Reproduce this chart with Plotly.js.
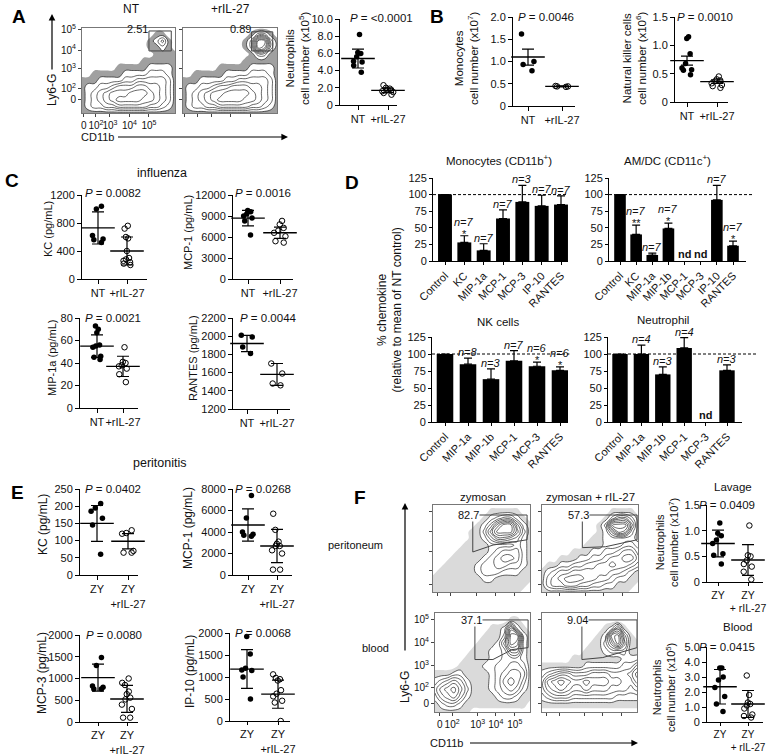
<!DOCTYPE html>
<html><head><meta charset="utf-8">
<script src="https://cdn.plot.ly/plotly-3.0.1.min.js"></script>
<style>html,body{margin:0;padding:0;background:#fff}#fig{width:774px;height:755px}</style>
</head><body><div id="fig"></div>
<script>
// ================= DATA =================
// Panel A – neutrophils (x10^5)
const catsNT = ['NT', '+rIL-27'];
const aNeutNT = [8.2, 6.1, 6.0, 5.6, 5.1, 5.0, 4.6, 3.8];
const aNeutIL = [2.3, 2.0, 1.9, 1.8, 1.7, 1.7, 1.6, 1.5, 1.4, 1.2];
const aNeutMean = [5.4, 1.7];
const aNeutSD = [1.1, 0.25];
const aTicks = [0, 2, 4, 6, 8, 10];
const aTickText = ['0', '2.0', '4.0', '6.0', '8.0', '10.0'];
const aGateLabels = ['2.51', '0.89'];
// Panel B
const bMonoNT = [1.62, 1.0, 0.93, 0.79];
const bMonoIL = [0.45, 0.44, 0.44, 0.43];
const bMonoMean = [1.1, 0.44];
const bMonoSEM = [0.18, 0.01];
const bMonoTicks = [0, 0.5, 1.0, 1.5, 2.0];
const bMonoTickText = ['0', '0.5', '1.0', '1.5', '2.0'];
const bNkNT = [1.15, 1.12, 0.85, 0.68, 0.60, 0.57, 0.56, 0.48];
const bNkIL = [0.45, 0.40, 0.38, 0.37, 0.33, 0.30, 0.28, 0.25];
const bNkMean = [0.73, 0.36];
const bNkSEM = [0.08, 0.03];
const bNkTicks = [0, 0.5, 1.0, 1.5];
const bNkTickText = ['0', '0.5', '1.0', '1.5'];
// Panel C – influenza
const cKcNT = [1040, 1000, 620, 570, 560, 520];
const cKcIL = [760, 720, 600, 580, 400, 300, 280, 260, 240, 220, 200];
const cKcMean = [730, 400];
const cKcSD = [230, 200];
const cMcp1NT = [9800, 9600, 9300, 9000, 8700, 8300, 6300];
const cMcp1IL = [8300, 7800, 7300, 6900, 6600, 6100, 5400, 5200];
const cMcp1Mean = [8700, 6600];
const cMcp1SD = [1100, 800];
const cMip1aNT = [73, 70, 67, 56, 55, 54, 46, 45, 43];
const cMip1aIL = [54, 41, 40, 38, 37, 35, 30, 23];
const cMip1aMean = [55, 37];
const cMip1aSD = [10, 9];
const cRantesNT = [2010, 1990, 1880, 1810];
const cRantesIL = [1700, 1590, 1480, 1460];
const cRantesMean = [1920, 1580];
const cRantesSD = [90, 120];
// Panel D – % chemokine
const dMonoCats = ['Control', 'KC', 'MIP-1a', 'MCP-1', 'MCP-3', 'IP-10', 'RANTES'];
const dMonoVals = [100, 28, 16, 64, 89, 83, 85];
const dMonoErr = [0, 10, 10, 13, 25, 16, 13];
const dMonoN = ['', '7', '7', '7', '3', '7', '7'];
const dMonoStar = ['', '*', '', '', '', '', ''];
const dAmCats = ['Control', 'KC', 'MIP-1a', 'MIP-1b', 'MCP-1', 'MCP-3', 'IP-10', 'RANTES'];
const dAmVals = [100, 40, 9, 49, null, null, 92, 23];
const dAmErr = [0, 14, 3, 8, 0, 0, 22, 7];
const dAmN = ['', '7', '7', '7', 'nd', 'nd', '7', '7'];
const dAmStar = ['', '**', '', '*', '', '', '', '*'];
const dNkCats = ['Control', 'MIP-1a', 'MIP-1b', 'MCP-1', 'MCP-3', 'RANTES'];
const dNkVals = [100, 85, 63, 90, 82, 76];
const dNkErr = [0, 9, 15, 15, 6, 5];
const dNkN = ['', '8', '3', '7', '6', '6'];
const dNkStar = ['', '', '', '', '*', '*'];
const dNeCats = ['Control', 'MIP-1a', 'MIP-1b', 'MCP-1', 'MCP-3', 'RANTES'];
const dNeVals = [100, 100, 70, 109, null, 76];
const dNeErr = [0, 13, 11, 15, 0, 8];
const dNeN = ['', '4', '3', '4', 'nd', '3'];
const dNeStar = ['', '', '', '', '', ''];
const dTicks = [0, 25, 50, 75, 100, 125];
// Panel E – peritonitis
const catsZY = ['ZY', 'ZY<br>+rIL-27'];
const eKcZY = [208, 195, 185, 165, 145, 60];
const eKcIL = [130, 122, 120, 70, 65, 65];
const eKcMean = [150, 98];
const eKcSD = [52, 22];
const eMcp1ZY = [7400, 5300, 4000, 3800, 3700, 3600];
const eMcp1IL = [5700, 4200, 3100, 2900, 2700, 2700, 2300, 2000, 500, 500];
const eMcp1Mean = [4650, 2700];
const eMcp1SD = [1500, 1550];
const eMcp3ZY = [1480, 1300, 830, 800, 760, 760];
const eMcp3IL = [1000, 900, 850, 700, 640, 560, 520, 400, 300, 100, 100];
const eMcp3Mean = [1020, 530];
const eMcp3SD = [310, 310];
const eIp10ZY = [1920, 1520, 1200, 1160, 1150, 1000, 500];
const eIp10IL = [1060, 980, 950, 920, 700, 620, 560, 460, 420, 0];
const eIp10Mean = [1180, 610];
const eIp10SD = [440, 320];
// Panel F
const catsZY2 = ['ZY', 'ZY<br>+ rIL-27'];
const fLavZY = [1.15, 0.95, 0.9, 0.82, 0.75, 0.55, 0.52, 0.35];
const fLavIL = [1.1, 0.52, 0.5, 0.42, 0.35, 0.3, 0.2, 0.05];
const fLavMean = [0.75, 0.43];
const fLavSD = [0.26, 0.30];
const fBloodZY = [3.6, 3.6, 3.0, 2.8, 2.3, 1.7, 1.2, 0.7];
const fBloodIL = [3.1, 1.8, 1.3, 1.2, 1.1, 0.9, 0.5, 0.4, 0.3];
const fBloodMean = [2.35, 1.2];
const fBloodSD = [1.15, 0.9];
const fGateLabels = ['82.7', '57.3', '37.1', '9.04'];
const flowTickText = ['0', '10<sup>2</sup>', '10<sup>3</sup>', '10<sup>4</sup>', '10<sup>5</sup>'];
const pValues = {aNeut: '&lt;0.0001', bMono: '0.0046', bNk: '0.0010', cKc: '0.0082', cMcp1: '0.0016', cMip1a: '0.0021', cRantes: '0.0044',
  eKc: '0.0402', eMcp1: '0.0268', eMcp3: '0.0080', eIp10: '0.0068', fLav: '0.0409', fBlood: '0.0415'};

// Flow cytometry density grids (rows top -> bottom, levels 0-9)
const flowA_NT = [
"0000000000000000",
"0000000000001100",
"0000000000012410",
"0000000000011210",
"0000000000001111",
"0000000000111111",
"0000001111122221",
"0011111222233321",
"1112222334444431",
"1223345556655431",
"1234566677765431",
"1234567777665431",
"1233445555544321",
"1111111111111111"];
const flowA_IL = [
"0000000000000000",
"0000000000013310",
"0000000000139931",
"0000000000139831",
"0000000000013311",
"0000000000111111",
"0000001111122221",
"0011111222233321",
"1112222334444431",
"1223345566655431",
"1234566777765431",
"1234567777665431",
"1233445555544321",
"1111111111111111"];
const flowF_TL = [
"0000000000000000",
"0000000001111100",
"0000000012344210",
"0000000124799521",
"0000001136999631",
"0000001124665421",
"0000011112222321",
"0000111112344421",
"0001111123455421",
"0011111233443321",
"0111111233322211",
"1111111122111111",
"1111111111111110",
"1111111111111100"];
const flowF_TR = [
"0000000000000000",
"0000000000011110",
"0000000000135531",
"0000000001399951",
"0000000001258731",
"0000000011222221",
"0000000111222332",
"0000011122334553",
"0001112233455664",
"0112233445565543",
"1234455555544321",
"1345666554432211",
"1344554433221110",
"1111111111111100"];
const flowF_BL = [
"0000000000000000",
"0000000000001100",
"0000000001127210",
"0000000011139921",
"0000000111259821",
"0000001112236621",
"0000011112233321",
"0000111122334431",
"1112211112345541",
"2345421112356531",
"3567531112345421",
"2456421111233211",
"1233211111111110",
"1111110000000000"];
const flowF_BR = [
"0000000000000000",
"0000000000000000",
"0000000000125100",
"0000000001289410",
"0000000011369511",
"0000000111233311",
"0000011111111222",
"1111111222222335",
"2345544455544457",
"3678766766655446",
"3567655655544434",
"2344433333332222",
"1111111111111111",
"0000000000000000"];
// gates (fractions of plot area)
const gateA_NT = [[0.72, 0.73], [0.96, 0.73], [0.96, 0.965], [0.72, 0.965]];
const gateA_IL = [[0.73, 0.73], [0.955, 0.73], [0.955, 0.955], [0.73, 0.955]];
const gateF_TL = [[0.41, 0.885], [0.97, 0.885], [0.97, 0.60], [0.62, 0.54], [0.41, 0.46]];
const gateF_TR = [[0.42, 0.885], [0.99, 0.885], [0.99, 0.60], [0.66, 0.52], [0.42, 0.51]];
const gateF_BL = [[0.42, 0.93], [0.98, 0.93], [0.98, 0.65], [0.81, 0.63], [0.61, 0.53], [0.42, 0.53]];
const gateF_BR = [[0.42, 0.93], [1.0, 0.93], [1.0, 0.65], [0.64, 0.55], [0.42, 0.53]];

// ================= LAYOUT HELPERS =================
const W = 774, H = 755;
const FONT = '"Liberation Sans", Arial, Helvetica, sans-serif';
const INK = '#111';
const px = x => x / W, py = y => 1 - y / H;
const layout = {width: W, height: H, margin: {l: 0, r: 0, t: 0, b: 0}, paper_bgcolor: '#fff', plot_bgcolor: 'rgba(0,0,0,0)',
  showlegend: false, hovermode: false, font: {family: FONT, size: 11, color: INK}, annotations: [], shapes: []};
const data = [];
let axN = 0;
function newAxes() { axN++; const s = axN === 1 ? '' : String(axN); return {xa: 'xaxis' + s, ya: 'yaxis' + s, x: 'x' + s, y: 'y' + s}; }
function ann(x, y, text, o = {}) {
  const f = Object.assign({size: 11, family: FONT, color: INK}, o.font || {});
  const a = Object.assign({xref: 'paper', yref: 'paper', x: px(x), y: py(y), text: text, showarrow: false, xanchor: 'center', yanchor: 'middle'}, o);
  a.font = f; layout.annotations.push(a);
}
function arrow(x, y, ax, ay) {
  layout.annotations.push({xref: 'paper', yref: 'paper', x: px(x), y: py(y), ax: ax, ay: ay, text: ' ', showarrow: true,
    arrowhead: 2, arrowsize: 1.1, arrowwidth: 1.2, arrowcolor: '#000', standoff: 0, startstandoff: 0, font: {size: 2}});
}
function axisBase() {
  return {showline: true, linecolor: '#000', linewidth: 1, ticks: 'outside', ticklen: 4, tickwidth: 1, tickcolor: '#000', tickangle: 0,
    showgrid: false, zeroline: false, tickmode: 'array', tickfont: {size: 11, family: FONT, color: INK}, fixedrange: true};
}
function dot(o) {
  const a = newAxes();
  const unit = o.c1 - o.c0;
  layout[a.xa] = Object.assign(axisBase(), {domain: [px(o.axL), px(o.axR)], range: [-(o.c0 - o.axL) / unit, 1 + (o.axR - o.c1) / unit],
    anchor: a.y, tickvals: [0, 1], ticktext: o.cats});
  if (o.xfont) { layout[a.xa].tickfont = {size: o.xfont, family: FONT, color: INK}; layout[a.xa].ticklen = 3; }
  layout[a.ya] = Object.assign(axisBase(), {domain: [py(o.yBot), py(o.yTop)], range: o.range, anchor: a.x,
    tickvals: o.yt, ticktext: o.ytt || o.yt.map(String)});
  [o.g0, o.g1].forEach((vals, i) => {
    data.push({type: 'box', xaxis: a.x, yaxis: a.y, x: vals.map(() => i), y: vals, boxpoints: 'all', jitter: 0.9, pointpos: 0, width: 0.5,
      fillcolor: 'rgba(0,0,0,0)', line: {width: 0, color: 'rgba(0,0,0,0)'}, whiskerwidth: 0,
      marker: i === 0 ? {color: '#000', size: 5.5, symbol: 'circle'} : {color: '#000', size: 5.5, symbol: 'circle-open', line: {width: 1, color: '#000'}}});
  });
  data.push({type: 'scatter', mode: 'markers', xaxis: a.x, yaxis: a.y, x: [0, 1], y: o.mean, cliponaxis: false,
    marker: {symbol: 'line-ew', size: 24, color: '#000', line: {width: 1.4, color: '#000'}},
    error_y: {type: 'data', array: o.err, visible: true, color: '#000', thickness: 1.2, width: 6}});
  return a;
}
function bars(o) {
  const a = newAxes(); const n = o.cats.length; const idx = o.cats.map((_, i) => i);
  const unit = (o.cN - o.c0) / (n - 1);
  layout[a.xa] = Object.assign(axisBase(), {domain: [px(o.axL), px(o.axR)], range: [-(o.c0 - o.axL) / unit, (n - 1) + (o.axR - o.cN) / unit],
    anchor: a.y, tickvals: idx, ticktext: o.cats, tickangle: -45, ticklen: 3, tickfont: {size: 11, family: FONT, color: INK}});
  layout[a.ya] = Object.assign(axisBase(), {domain: [py(o.yBot), py(o.yTop)], range: [0, 125], anchor: a.x, tickvals: dTicks,
    ticktext: dTicks.map(String), ticklen: 3, tickfont: {size: 11, family: FONT, color: INK}});
  data.push({type: 'bar', xaxis: a.x, yaxis: a.y, x: idx, y: o.vals, width: 0.72, marker: {color: '#000', line: {width: 0}},
    error_y: {type: 'data', symmetric: false, array: o.err, arrayminus: o.err.map(() => 0), color: '#000', thickness: 1.2, width: 4}});
  layout.shapes.push({type: 'line', xref: a.x + ' domain', yref: a.y, x0: 0, x1: o.dashEnd || 1, y0: 100, y1: 100,
    line: {color: '#000', width: 1, dash: '3px,2px'}});
  idx.forEach(i => {
    if (o.n[i] === 'nd') {
      layout.annotations.push({xref: a.x, yref: a.y, x: i, y: 0, yanchor: 'bottom', showarrow: false, text: '<b>nd</b>', yshift: -1,
        font: {size: 11, family: FONT, color: INK}});
      return;
    }
    const top = (o.vals[i] || 0) + o.err[i];
    if (o.star[i]) layout.annotations.push({xref: a.x, yref: a.y, x: i, y: top, yanchor: 'bottom', showarrow: false, text: o.star[i], yshift: -6,
      font: {size: 11, family: FONT, color: INK}});
    if (o.n[i]) layout.annotations.push({xref: a.x, yref: a.y, x: i, y: top, yanchor: 'bottom', showarrow: false,
      text: '<i>n=' + o.n[i] + '</i>', yshift: o.star[i] ? 6 : -2, font: {size: 11, family: FONT, color: INK}});
  });
  return a;
}
function flow(o) {
  const a = newAxes();
  const base = {showline: true, mirror: true, linecolor: '#777', linewidth: 1, ticks: 'outside', ticklen: 3, tickcolor: '#444', showgrid: false,
    zeroline: false, range: [0, 1], tickmode: 'array', ticktext: flowTickText, tickangle: 0, tickfont: {size: 10, family: FONT, color: INK}, fixedrange: true};
  layout[a.xa] = Object.assign({}, base, {domain: [px(o.l), px(o.r)], anchor: a.y, tickvals: o.xt, showticklabels: !!o.xlab});
  layout[a.ya] = Object.assign({}, base, {domain: [py(o.b), py(o.t)], anchor: a.x, tickvals: o.yt, showticklabels: !!o.ylab});
  const z = o.grid.slice().reverse().map(r => r.split('').map(Number));
  const xs = z[0].map((_, j) => j / (z[0].length - 1));
  const ys = z.map((_, i) => i / (z.length - 1));
  data.push({type: 'contour', xaxis: a.x, yaxis: a.y, x: xs, y: ys, z: z, autocontour: false,
    contours: {start: 0.5, end: 0.5, size: 1, coloring: 'fill', showlines: false}, line: {width: 0, smoothing: 1.3},
    colorscale: [[0, 'rgba(255,255,255,0)'], [0.5, 'rgba(255,255,255,0)'], [0.51, o.speck], [1, o.speck]], showscale: false, hoverinfo: 'skip'});
  data.push({type: 'contour', xaxis: a.x, yaxis: a.y, x: xs, y: ys, z: z, autocontour: false,
    contours: {start: 1.5, end: 9.5, size: 1, coloring: 'fill', showlines: true}, line: {width: 0.6, color: '#000', smoothing: 1.3},
    colorscale: [[0, 'rgba(255,255,255,0)'], [0.05, 'rgba(255,255,255,0)'], [0.09, '#fff'], [1, '#fff']], showscale: false, hoverinfo: 'skip'});
  layout.shapes.push({type: 'path', xref: a.x, yref: a.y, path: 'M' + o.gate.map(p => p[0] + ',' + p[1]).join(' L') + ' Z',
    line: {color: '#444', width: 1}, fillcolor: 'rgba(0,0,0,0)'});
  layout.annotations.push({xref: a.x, yref: a.y, x: o.lab[1], y: o.lab[2], text: o.lab[0], showarrow: false, xanchor: 'center', yanchor: 'middle',
    bgcolor: o.labBg ? '#fff' : 'rgba(0,0,0,0)', borderpad: 0, font: {size: 11, family: FONT, color: INK}});
  return a;
}
const pText = v => '<i>P</i> = ' + v;
const big = {size: 19, family: FONT, color: '#000'};

// ================= PANEL A =================
ann(19, 17, '<b>A</b>', {font: big});
ann(131, 9, 'NT', {font: {size: 12}});
ann(230, 9, '+rIL-27', {font: {size: 12}});
flow({l: 82, r: 175, t: 28, b: 113, grid: flowA_NT, xt: [0.02, 0.15, 0.30, 0.51, 0.72], yt: [0.16, 0.29, 0.52, 0.74, 0.98], xlab: true, ylab: true,
  gate: gateA_NT, lab: [aGateLabels[0], 0.6, 0.99], speck: '#a0a0a0'});
flow({l: 183, r: 277, t: 28, b: 113, grid: flowA_IL, xt: [0.02, 0.15, 0.30, 0.51, 0.72], yt: [0.16, 0.29, 0.52, 0.74, 0.98],
  gate: gateA_IL, lab: [aGateLabels[1], 0.61, 0.99], speck: '#a0a0a0'});
ann(52, 90, 'Ly6-G', {textangle: -90, font: {size: 12}});
arrow(52, 14, 0, 58);
ann(97, 137, 'CD11b', {font: {size: 11}});
arrow(288, 137, -172, 0);
dot({axL: 340, c0: 358, c1: 388, axR: 397, yTop: 19, yBot: 105, range: [0, 10], yt: aTicks, ytt: aTickText, cats: catsNT,
  g0: aNeutNT, g1: aNeutIL, mean: aNeutMean, err: aNeutSD});
ann(298, 58, 'Neutrophils<br>cell number (x10<sup>5</sup>)', {textangle: -90, font: {size: 11.5}});
ann(381, 18, pText(pValues.aNeut), {font: {size: 11.5}});

// ================= PANEL B =================
ann(437, 17, '<b>B</b>', {font: big});
dot({axL: 513, c0: 528, c1: 562, axR: 575, yTop: 17, yBot: 106, range: [0, 2], yt: bMonoTicks, ytt: bMonoTickText, cats: catsNT,
  g0: bMonoNT, g1: bMonoIL, mean: bMonoMean, err: bMonoSEM});
ann(467, 58, 'Monocytes<br>cell number (x10<sup>7</sup>)', {textangle: -90, font: {size: 11.5}});
ann(546, 17, pText(pValues.bMono), {font: {size: 11.5}});
dot({axL: 675, c0: 687, c1: 717, axR: 728, yTop: 17, yBot: 102, range: [0, 1.5], yt: bNkTicks, ytt: bNkTickText, cats: catsNT,
  g0: bNkNT, g1: bNkIL, mean: bNkMean, err: bNkSEM});
ann(635, 58, 'Natural killer cells<br>cell number (x10<sup>6</sup>)', {textangle: -90, font: {size: 11.5}});
ann(705, 17, pText(pValues.bNk), {font: {size: 11.5}});

// ================= PANEL C =================
ann(12, 180, '<b>C</b>', {font: big});
ann(162, 173, 'influenza', {font: {size: 12.5}});
dot({axL: 82, c0: 98, c1: 127, axR: 147, yTop: 195, yBot: 279, range: [0, 1200], yt: [0, 400, 800, 1200], cats: catsNT,
  g0: cKcNT, g1: cKcIL, mean: cKcMean, err: cKcSD});
ann(48, 229, 'KC (pg/mL)', {textangle: -90});
ann(113, 193, pText(pValues.cKc), {font: {size: 11.5}});
dot({axL: 233, c0: 248, c1: 280, axR: 293, yTop: 195, yBot: 279, range: [0, 12000], yt: [0, 3000, 6000, 9000, 12000], cats: catsNT,
  g0: cMcp1NT, g1: cMcp1IL, mean: cMcp1Mean, err: cMcp1SD});
ann(188, 233, 'MCP-1 (pg/mL)', {textangle: -90});
ann(263, 193, pText(pValues.cMcp1), {font: {size: 11.5}});
dot({axL: 80, c0: 97, c1: 123, axR: 138, yTop: 318, yBot: 408, range: [0, 80], yt: [0, 20, 40, 60, 80], cats: catsNT,
  g0: cMip1aNT, g1: cMip1aIL, mean: cMip1aMean, err: cMip1aSD});
ann(52, 358, 'MIP-1a (pg/mL)', {textangle: -90});
ann(113, 318, pText(pValues.cMip1a), {font: {size: 11.5}});
dot({axL: 233, c0: 247, c1: 277, axR: 290, yTop: 318, yBot: 409, range: [1200, 2200], yt: [1200, 1400, 1600, 1800, 2000, 2200], cats: catsNT,
  g0: cRantesNT, g1: cRantesIL, mean: cRantesMean, err: cRantesSD});
ann(193, 358, 'RANTES (pg/mL)', {textangle: -90});
ann(268, 318, pText(pValues.cRantes), {font: {size: 11.5}});

// ================= PANEL D =================
ann(352, 182, '<b>D</b>', {font: big});
ann(389.5, 310, '% chemokine<br>(relative to mean of NT control)', {textangle: -90, font: {size: 12}});
bars({cats: dMonoCats, vals: dMonoVals, err: dMonoErr, n: dMonoN, star: dMonoStar, axL: 433, c0: 445, cN: 561, axR: 568, yTop: 178, yBot: 261});
ann(499, 160, 'Monocytes (CD11b<sup>+</sup>)', {font: {size: 11.5}});
bars({cats: dAmCats, vals: dAmVals, err: dAmErr, n: dAmN, star: dAmStar, axL: 609, c0: 620, cN: 733, axR: 746, yTop: 178, yBot: 261, dashEnd: 1.05});
ann(667, 160, 'AM/DC (CD11c<sup>+</sup>)', {font: {size: 11.5}});
bars({cats: dNkCats, vals: dNkVals, err: dNkErr, n: dNkN, star: dNkStar, axL: 432, c0: 445, cN: 560, axR: 568, yTop: 337, yBot: 422, dashEnd: 1.01});
ann(498, 322, 'NK cells', {font: {size: 11.5}});
bars({cats: dNeCats, vals: dNeVals, err: dNeErr, n: dNeN, star: dNeStar, axL: 608, c0: 620, cN: 727, axR: 742, yTop: 337, yBot: 422, dashEnd: 1.11});
ann(663, 320, 'Neutrophil', {font: {size: 11.5}});

// ================= PANEL E =================
ann(17, 492, '<b>E</b>', {font: big});
ann(160, 463, 'peritonitis', {font: {size: 12.5}});
dot({axL: 80, c0: 97, c1: 128, axR: 138, yTop: 489, yBot: 575, range: [0, 250], yt: [0, 50, 100, 150, 200, 250], cats: catsZY,
  g0: eKcZY, g1: eKcIL, mean: eKcMean, err: eKcSD});
ann(43, 525, 'KC (pg/mL)', {textangle: -90, font: {size: 12}});
ann(113, 489, pText(pValues.eKc), {font: {size: 11.5}});
dot({axL: 233, c0: 248, c1: 277, axR: 292, yTop: 489, yBot: 575, range: [0, 8000], yt: [0, 2000, 4000, 6000, 8000], cats: catsZY,
  g0: eMcp1ZY, g1: eMcp1IL, mean: eMcp1Mean, err: eMcp1SD});
ann(188, 528, 'MCP-1 (pg/mL)', {textangle: -90, font: {size: 12}});
ann(263, 489, pText(pValues.eMcp1), {font: {size: 11.5}});
dot({axL: 80, c0: 98, c1: 127, axR: 138, yTop: 635, yBot: 722, range: [0, 2000], yt: [0, 500, 1000, 1500, 2000], cats: catsZY,
  g0: eMcp3ZY, g1: eMcp3IL, mean: eMcp3Mean, err: eMcp3SD, xfont: 11});
ann(42, 673, 'MCP-3 (pg/mL)', {textangle: -90, font: {size: 12}});
ann(114, 635, pText(pValues.eMcp3), {font: {size: 11.5}});
dot({axL: 230, c0: 247, c1: 278, axR: 290, yTop: 633, yBot: 721, range: [0, 2000], yt: [0, 500, 1000, 1500, 2000], cats: catsZY,
  g0: eIp10ZY, g1: eIp10IL, mean: eIp10Mean, err: eIp10SD, xfont: 11});
ann(190, 672, 'IP-10 (pg/mL)', {textangle: -90, font: {size: 12}});
ann(263, 633, pText(pValues.eIp10), {font: {size: 11.5}});

// ================= PANEL F =================
ann(360, 497, '<b>F</b>', {font: big});
ann(355, 545, 'peritoneum');
ann(375, 648, 'blood');
ann(483, 497, 'zymosan', {font: {size: 11.5}});
ann(590, 497, 'zymosan + rIL-27', {font: {size: 11.5}});
const fXt = [0.05, 0.18, 0.45, 0.64, 0.84], fYt = [0.09, 0.25, 0.47, 0.70, 0.93];
flow({l: 433, r: 530, t: 505, b: 592, grid: flowF_TL, xt: fXt, yt: fYt, gate: gateF_TL, lab: [fGateLabels[0], 0.37, 0.885], labBg: true, speck: '#dadada'});
flow({l: 542, r: 638, t: 505, b: 592, grid: flowF_TR, xt: fXt, yt: fYt, gate: gateF_TR, lab: [fGateLabels[1], 0.38, 0.885], labBg: true, speck: '#dadada'});
flow({l: 435, r: 530, t: 613, b: 712, grid: flowF_BL, xt: fXt, yt: fYt, xlab: true, ylab: true, gate: gateF_BL, lab: [fGateLabels[2], 0.38, 0.925], labBg: true, speck: '#dadada'});
flow({l: 542, r: 637, t: 613, b: 712, grid: flowF_BR, xt: fXt, yt: fYt, gate: gateF_BR, lab: [fGateLabels[3], 0.37, 0.925], labBg: true, speck: '#dadada'});
ann(405, 687, 'Ly6-G', {textangle: -90, font: {size: 12}});
arrow(405, 503, 0, 150);
ann(446, 743, 'CD11b');
arrow(638, 743, -170, 0);
dot({axL: 707, c0: 718, c1: 748, axR: 763, yTop: 505, yBot: 582, range: [0, 1.5], yt: [0, 0.5, 1.0, 1.5], ytt: ['0', '0.5', '1.0', '1.5'], cats: catsZY2,
  g0: fLavZY, g1: fLavIL, mean: fLavMean, err: fLavSD, xfont: 10.5});
ann(733, 487, 'Lavage', {font: {size: 11.5}});
ann(667, 543, 'Neutrophils<br>cell number (x10<sup>7</sup>)', {textangle: -90, font: {size: 11}});
ann(727, 505, pText(pValues.fLav), {font: {size: 11.5}});
dot({axL: 707, c0: 720, c1: 748, axR: 763, yTop: 647, yBot: 722, range: [0, 5], yt: [0, 1, 2, 3, 4, 5], ytt: ['0', '1.0', '2.0', '3.0', '4.0', '5.0'], cats: catsZY2,
  g0: fBloodZY, g1: fBloodIL, mean: fBloodMean, err: fBloodSD, xfont: 10});
ann(737, 627, 'Blood', {font: {size: 11.5}});
ann(664, 688, 'Neutrophils<br>cell number (x10<sup>5</sup>)', {textangle: -90, font: {size: 11}});
ann(727, 647, pText(pValues.fBlood), {font: {size: 11.5}});

Plotly.newPlot('fig', data, layout, {staticPlot: true, displayModeBar: false});
</script></body></html>
